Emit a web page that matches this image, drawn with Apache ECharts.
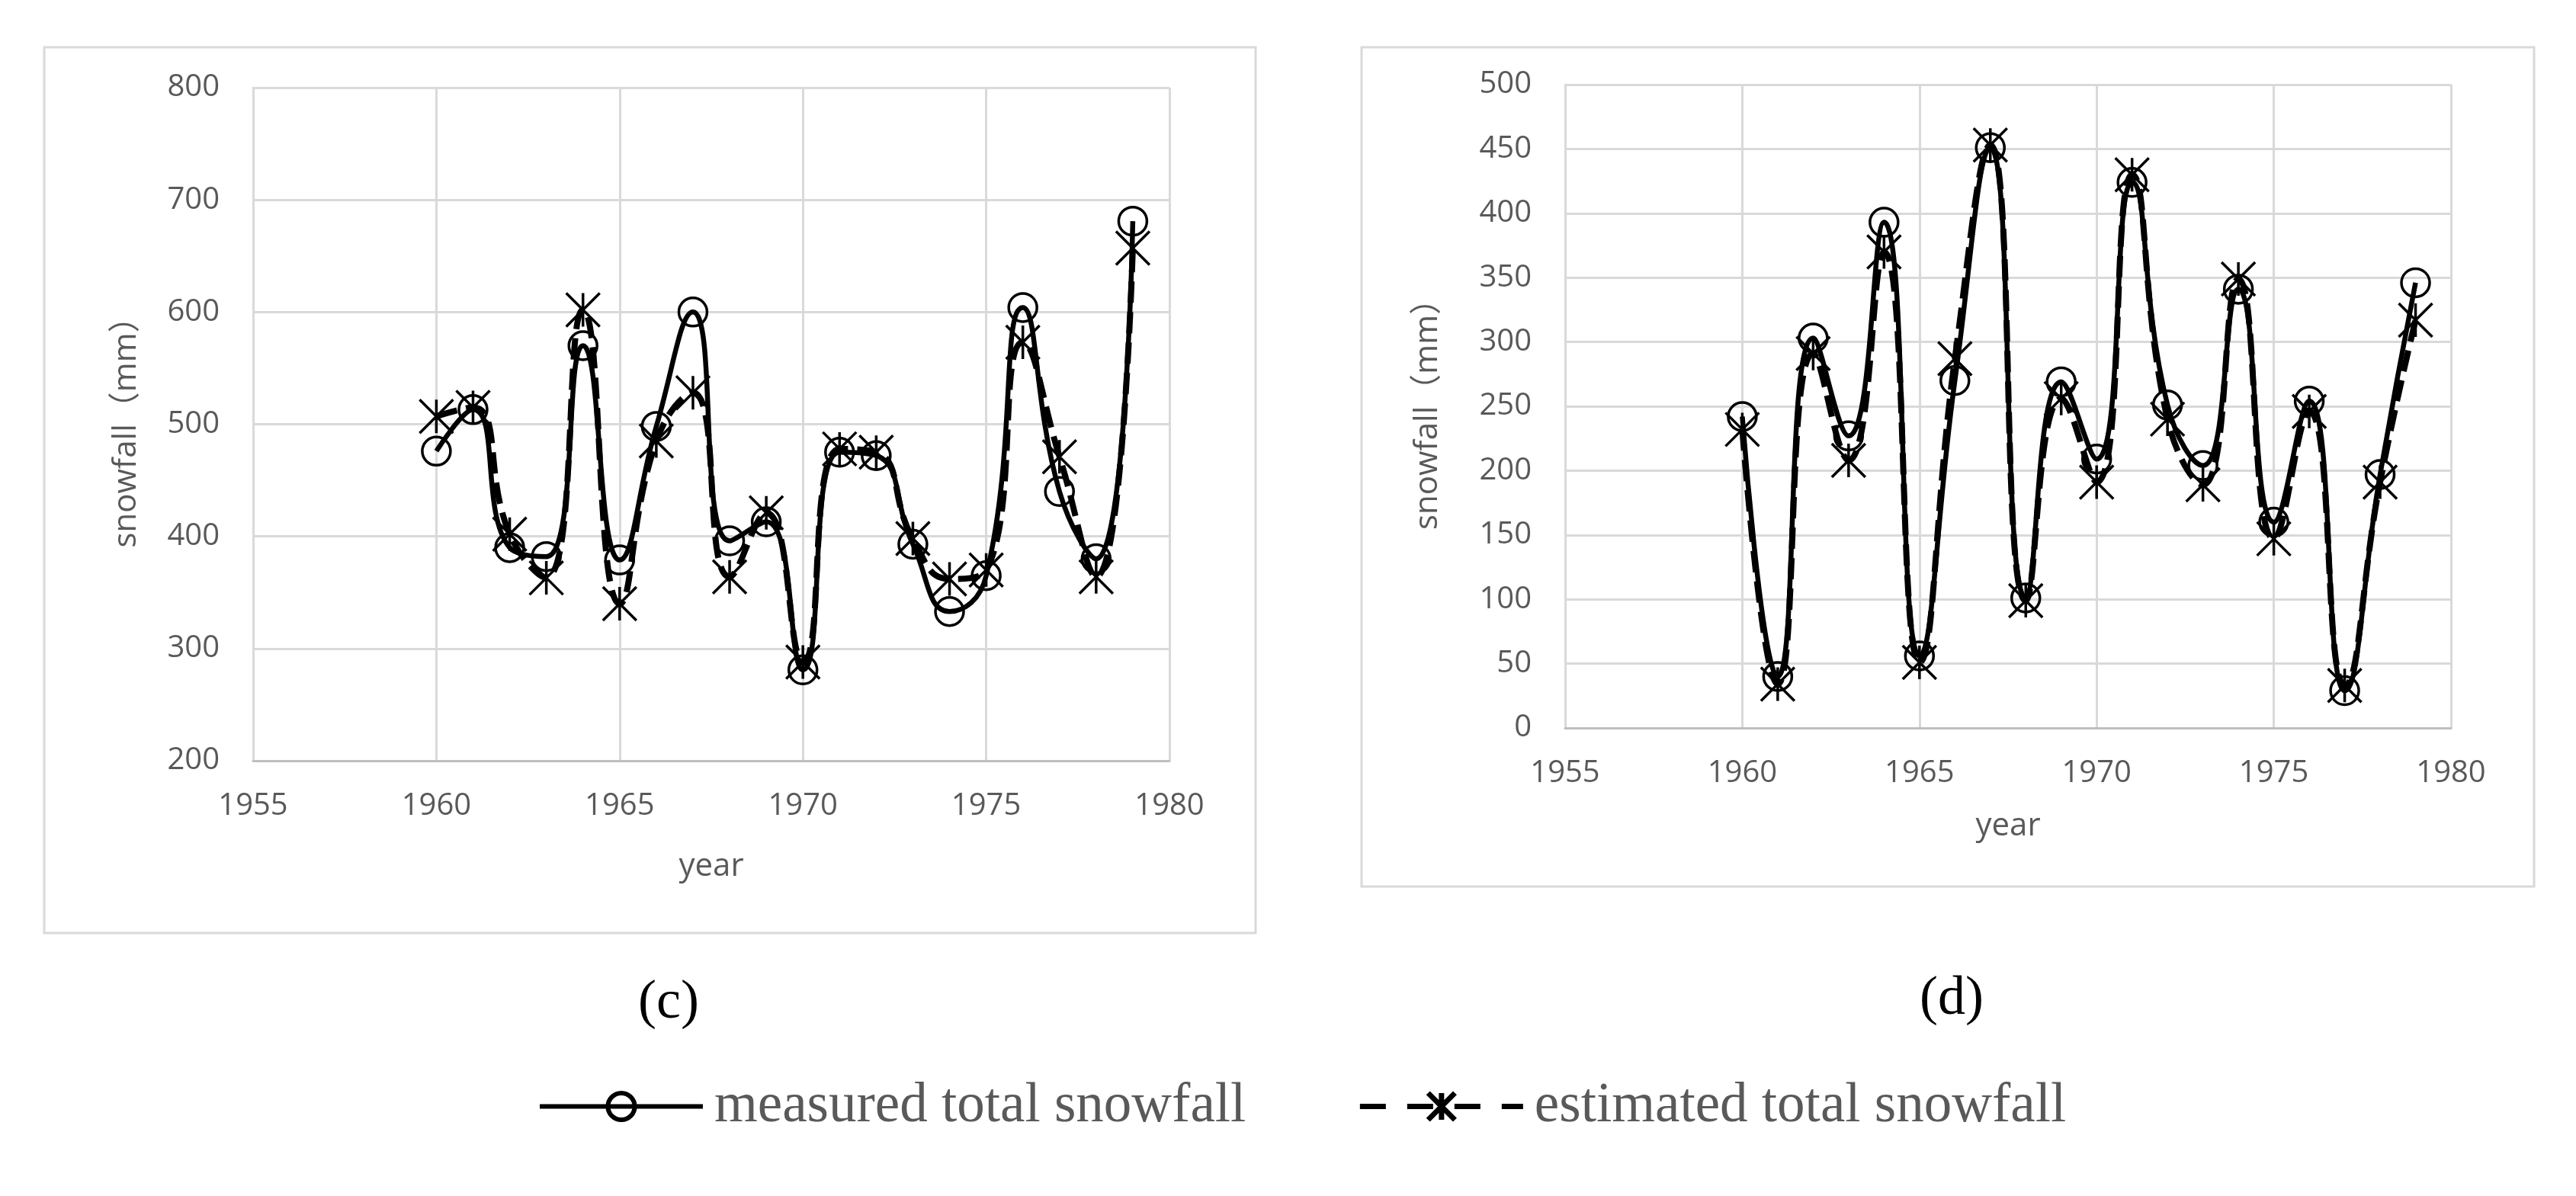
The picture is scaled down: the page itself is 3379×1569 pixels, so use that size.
<!DOCTYPE html>
<html>
<head>
<meta charset="utf-8">
<script src="https://cdn.jsdelivr.net/npm/echarts@6/dist/echarts.min.js"></script>
<style>
html,body{margin:0;padding:0;background:#fff;}
#main{width:3379px;height:1569px;}
</style>
</head>
<body>
<div id="main"></div>
<script>
const years = [1960,1961,1962,1963,1964,1965,1966,1967,1968,1969,1970,1971,1972,1973,1974,1975,1976,1977,1978,1979];
const measuredC = [476,513,390,382,570,379,498,600,396,413,281,475,472,393,333,365,604,440,380,681];
const estimatedC = [507,515,402,363,602,340,485,528,364,421,288,478,475,398,362,370,573,471,364,657];
const measuredD = [242,40,303,227,393,56,270,451,101,269,209,424,251,204,341,160,254,29,197,346];
const estimatedD = [232,34,291,208,370,51,287,453,99,256,191,430,240,189,349,147,246,33,191,317];
const xTicks = {min:1955, max:1980, interval:5};
const yTicksC = {min:200, max:800, interval:100};
const yTicksD = {min:0, max:500, interval:50};
const captions = ['(c)','(d)'];
const seriesNames = ['measured total snowfall','estimated total snowfall'];

const pair = (vals) => years.map((y,i)=>[y, vals[i]]);
const FONT = "'Open Sans','Noto Sans CJK SC',sans-serif";
const GRAY = '#595959';
const GRID = '#d9d9d9';
const STAR = 'path://M0,0L10,10M10,0L0,10M5,0L5,10';

function xAxis(idx, gap){
  return {gridIndex: idx, type:'value', min:xTicks.min, max:xTicks.max, interval:xTicks.interval,
    name:'year', nameLocation:'middle', nameGap:gap,
    nameTextStyle:{color:GRAY, fontSize:42, fontFamily:FONT},
    axisLine:{show:true, lineStyle:{color:'#bfbfbf', width:3}},
    axisTick:{show:false},
    axisLabel:{color:GRAY, fontSize:40, fontFamily:FONT, margin:40, formatter:(v)=>String(v)},
    splitLine:{show:true, lineStyle:{color:GRID, width:3}}};
}
function yAxis(idx, t, gap){
  return {gridIndex: idx, type:'value', min:t.min, max:t.max, interval:t.interval,
    name:'snowfall（mm）', nameLocation:'middle', nameGap:gap,
    nameTextStyle:{color:GRAY, fontSize:42, fontFamily:FONT},
    axisLine:{show:true, lineStyle:{color:GRID, width:3}},
    axisTick:{show:false},
    axisLabel:{color:GRAY, fontSize:40, fontFamily:FONT, margin:44},
    splitLine:{show:true, lineStyle:{color:GRID, width:3}}};
}
function measured(idx, vals){
  return {name:seriesNames[0], type:'line', xAxisIndex:idx, yAxisIndex:idx, data:pair(vals),
    smooth:0.5, showAllSymbol:true, symbol:'circle', symbolSize:37,
    lineStyle:{color:'#000', width:6.5},
    itemStyle:{color:'rgba(0,0,0,0)', borderColor:'#000', borderWidth:3.5}};
}
function estimated(idx, vals){
  return {name:seriesNames[1], type:'line', xAxisIndex:idx, yAxisIndex:idx, data:pair(vals),
    smooth:0.5, showAllSymbol:true, symbol:STAR, symbolSize:44,
    lineStyle:{color:'#000', width:8, type:[28,12]},
    itemStyle:{color:'rgba(0,0,0,0)', borderColor:'#000', borderWidth:3.5}};
}

const chart = echarts.init(document.getElementById('main'));
chart.setOption({
  animation:false,
  backgroundColor:'#fff',
  graphic:[
    {type:'rect', shape:{x:58, y:62, width:1589, height:1162}, style:{fill:'none', stroke:GRID, lineWidth:3}, z:-1},
    {type:'rect', shape:{x:1786, y:62, width:1538, height:1101}, style:{fill:'none', stroke:GRID, lineWidth:3}, z:-1}
  ],
  title:[
    {text:captions[0], left:872, top:1275, textAlign:'center', textStyle:{fontFamily:"'Liberation Serif',serif", fontSize:72, fontWeight:'normal', color:'#000'}},
    {text:captions[1], left:2555, top:1270, textAlign:'center', textStyle:{fontFamily:"'Liberation Serif',serif", fontSize:72, fontWeight:'normal', color:'#000'}}
  ],
  legend:{
    data:[
      {name:seriesNames[0], lineStyle:{width:6, type:'solid'}, itemStyle:{borderWidth:6}},
      {name:seriesNames[1], lineStyle:{width:7, type:[34,28]}, itemStyle:{borderWidth:7}}
    ],
    left:700, top:1410, itemWidth:214, itemHeight:44, itemGap:146,
    textStyle:{fontFamily:"'Liberation Serif',serif", fontSize:73, color:GRAY, padding:[0,0,0,10]}},
  grid:[
    {left:332, width:1202, top:115, height:883},
    {left:2053, width:1162, top:111, height:844}
  ],
  xAxis:[xAxis(0,118), xAxis(1,108)],
  yAxis:[yAxis(0,yTicksC,145), yAxis(1,yTicksD,159)],
  series:[measured(0,measuredC), estimated(0,estimatedC), measured(1,measuredD), estimated(1,estimatedD)]
});
</script>
</body>
</html>
